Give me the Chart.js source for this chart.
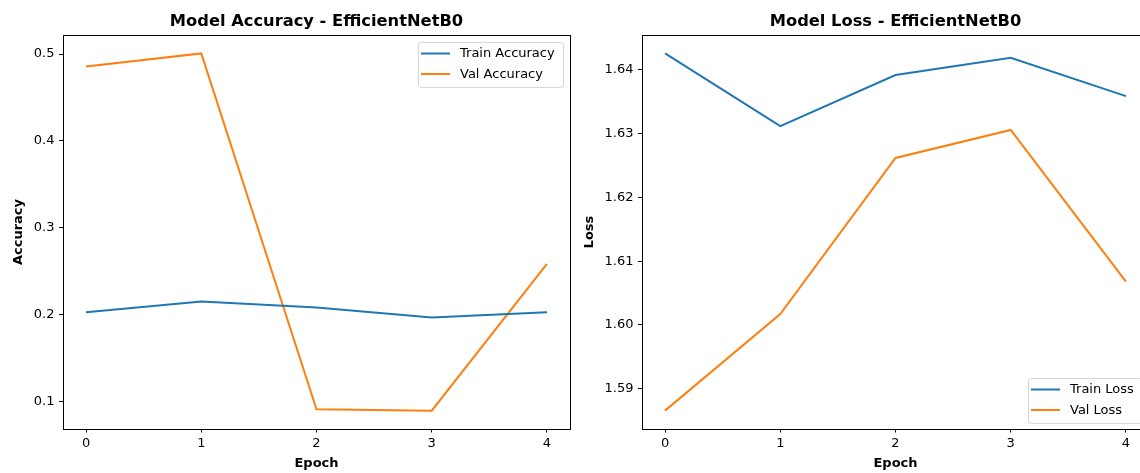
<!DOCTYPE html>
<html><head><meta charset="utf-8">
<script src="https://cdn.jsdelivr.net/npm/chart.js@4.4.1/dist/chart.umd.min.js"></script>
<style>
html,body{margin:0;padding:0;background:#fff;overflow:hidden;width:1140px;height:473px;}
#wrap{position:relative;width:1140px;height:473px;overflow:hidden;background:#fff;}
#c1{position:absolute;left:0;top:0;}
#c2{position:absolute;left:580px;top:0;}
</style></head><body>
<div id="wrap"><canvas id="c1" width="580" height="473"></canvas><canvas id="c2" width="600" height="473"></canvas></div>
<script>
// ---- data ----
const epochs = [0, 1, 2, 3, 4];
const trainAccuracy = [0.2027, 0.2150, 0.2080, 0.1965, 0.2027];
const valAccuracy = [0.4858, 0.5008, 0.0908, 0.0893, 0.2583];
const trainLoss = [1.6426, 1.6312, 1.6392, 1.6419, 1.6359];
const valLoss = [1.58656, 1.6017, 1.6262, 1.6306, 1.6068];
const accTicks = [0.1, 0.2, 0.3, 0.4, 0.5];
const lossTicks = [1.59, 1.60, 1.61, 1.62, 1.63, 1.64];
const epochTicks = [0, 1, 2, 3, 4];

const FONT = '"DejaVu Sans", sans-serif';
Chart.defaults.font.family = FONT;
Chart.defaults.color = '#000';

function padRange(arrs) {
  const all = [].concat(...arrs);
  const mn = Math.min(...all), mx = Math.max(...all);
  const m = (mx - mn) * 0.05;
  return [mn - m, mx + m];
}

const framePlugin = {
  id: 'frame',
  afterDatasetsDraw(chart) {
    const { ctx, chartArea: a } = chart;
    ctx.save();
    ctx.strokeStyle = '#000';
    ctx.lineWidth = 1;
    ctx.strokeRect(Math.floor(a.left) + 0.5, Math.floor(a.top) + 0.5,
      Math.round(a.right) - Math.floor(a.left), Math.round(a.bottom) - Math.floor(a.top));
    ctx.restore();
  }
};

const boxLegend = {
  id: 'boxLegend',
  afterDraw(chart, args, opts) {
    const { ctx, chartArea: a } = chart;
    const ds = chart.data.datasets;
    ctx.save();
    ctx.font = '13px ' + FONT;
    const tw = Math.max(...ds.map(d => ctx.measureText(d.label).width));
    const w = Math.round(42 + tw + 8), h = 45;
    const x = Math.round(a.right - 7 - w);
    const y = opts.corner === 'br' ? Math.round(a.bottom - 6 - h) : Math.round(a.top + 6);
    ctx.beginPath();
    ctx.roundRect(x + 0.5, y + 0.5, w, h, 3);
    ctx.fillStyle = 'rgba(255,255,255,0.8)';
    ctx.fill();
    ctx.strokeStyle = 'rgba(204,204,204,0.8)';
    ctx.lineWidth = 1;
    ctx.stroke();
    ds.forEach((d, i) => {
      const yy = y + 11.5 + i * 20.5;
      ctx.strokeStyle = d.borderColor;
      ctx.lineWidth = 2;
      ctx.beginPath();
      ctx.moveTo(x + 3, yy);
      ctx.lineTo(x + 32, yy);
      ctx.stroke();
      ctx.fillStyle = '#000';
      ctx.textBaseline = 'middle';
      ctx.textAlign = 'left';
      ctx.fillText(d.label, x + 42, yy + 0.5);
    });
    ctx.restore();
  }
};

function makeChart(id, cfg) {
  const xr = padRange([epochs]);
  const yr = padRange([cfg.train, cfg.val]);
  const gridOpts = { drawOnChartArea: false, drawTicks: true, tickLength: 4, color: '#000', lineWidth: 1 };
  return new Chart(document.getElementById(id), {
    type: 'line',
    data: {
      datasets: [
        { label: cfg.trainLabel, data: epochs.map((e, i) => ({ x: e, y: cfg.train[i] })),
          borderColor: '#1f77b4', backgroundColor: '#1f77b4', borderWidth: 2, pointRadius: 0, tension: 0, fill: false },
        { label: cfg.valLabel, data: epochs.map((e, i) => ({ x: e, y: cfg.val[i] })),
          borderColor: '#ff7f0e', backgroundColor: '#ff7f0e', borderWidth: 2, pointRadius: 0, tension: 0, fill: false }
      ]
    },
    options: {
      responsive: false,
      animation: false,
      events: [],
      layout: { padding: { left: 0, right: cfg.rightPad, top: 0, bottom: 0 } },
      scales: {
        x: {
          type: 'linear', min: xr[0], max: xr[1], bounds: 'data',
          afterFit(s) { s.height = 44.5; },
          afterBuildTicks(s) { s.ticks = epochTicks.map(v => ({ value: v })); },
          ticks: { color: '#000', font: { size: 13 }, padding: 3.5, maxRotation: 0, autoSkip: false, callback: v => String(v) },
          grid: gridOpts,
          border: { display: false },
          title: { display: true, text: 'Epoch', color: '#000', font: { size: 13, weight: 'bold' }, padding: { top: 0, bottom: 2 } }
        },
        y: {
          type: 'linear', min: yr[0], max: yr[1], bounds: 'data',
          afterFit(s) { s.width = cfg.yAxisWidth; },
          afterBuildTicks(s) { s.ticks = cfg.yTicks.map(v => ({ value: v })); },
          ticks: { color: '#000', font: { size: 13 }, padding: 4.5, autoSkip: false, callback: v => Number(v).toFixed(cfg.dec) },
          grid: gridOpts,
          border: { display: false },
          title: { display: true, text: cfg.yLabel, color: '#000', font: { size: 13, weight: 'bold' }, padding: { top: cfg.yTitlePad, bottom: 0 } }
        }
      },
      plugins: {
        legend: { display: false },
        tooltip: { enabled: false },
        title: { display: true, text: cfg.title, fullSize: false, color: '#000',
          font: { size: 16.3, weight: 'bold' }, padding: { top: 11.9, bottom: 4.1 } },
        boxLegend: { corner: cfg.corner }
      }
    },
    plugins: [framePlugin, boxLegend]
  });
}

makeChart('c1', {
  title: 'Model Accuracy - EfficientNetB0', yLabel: 'Accuracy',
  train: trainAccuracy, val: valAccuracy, trainLabel: 'Train Accuracy', valLabel: 'Val Accuracy',
  yTicks: accTicks, dec: 1, yAxisWidth: 63, yTitlePad: 11, rightPad: 10, corner: 'tr'
});
makeChart('c2', {
  title: 'Model Loss - EfficientNetB0', yLabel: 'Loss',
  train: trainLoss, val: valLoss, trainLabel: 'Train Loss', valLabel: 'Val Loss',
  yTicks: lossTicks, dec: 2, yAxisWidth: 62, yTitlePad: 2, rightPad: 31, corner: 'br'
});
</script>
</body></html>
